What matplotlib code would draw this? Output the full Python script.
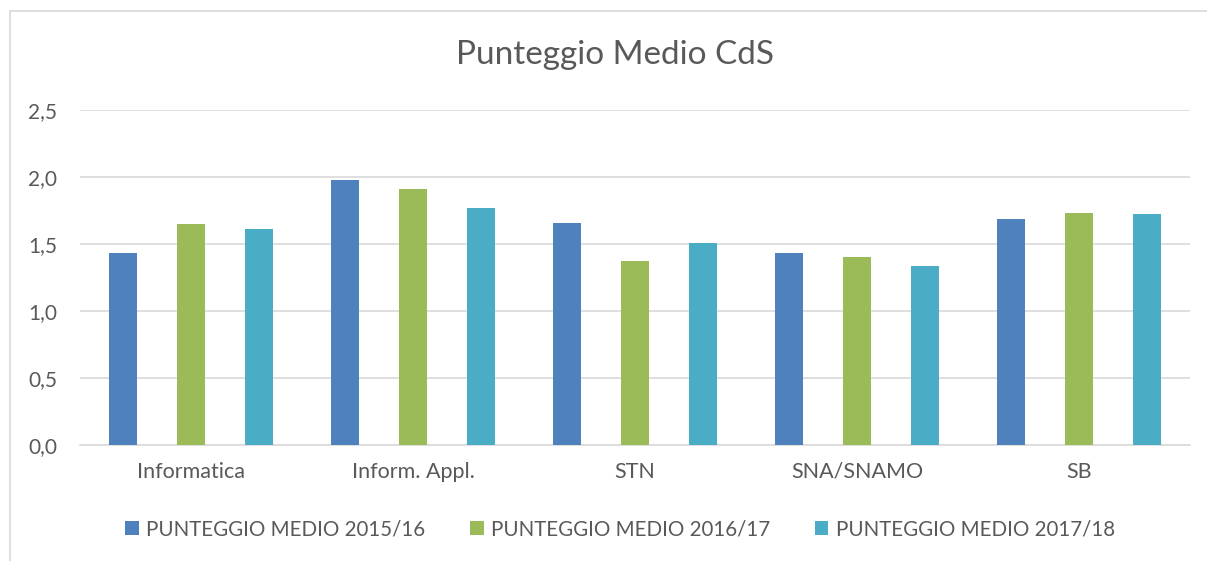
import numpy as np
import matplotlib
matplotlib.use("Agg")
import matplotlib.pyplot as plt
from matplotlib.patches import Rectangle

categories = ["Informatica", "Inform. Appl.", "STN", "SNA/SNAMO", "SB"]
series_names = ["PUNTEGGIO MEDIO 2015/16", "PUNTEGGIO MEDIO 2016/17",
                "PUNTEGGIO MEDIO 2017/18"]
vals_1516 = [1.43, 1.98, 1.66, 1.43, 1.69]
vals_1617 = [1.65, 1.91, 1.375, 1.405, 1.735]
vals_1718 = [1.61, 1.765, 1.51, 1.335, 1.725]
colors = ["#4F81BD", "#9BBB59", "#4BACC6"]
yticks = [0.0, 0.5, 1.0, 1.5, 2.0, 2.5]

plt.rcParams["font.family"] = ["Lato", "DejaVu Sans"]
txt = "#595959"

fig = plt.figure(figsize=(12.07, 5.61), dpi=100)
fig.patches.append(Rectangle((10 / 1207, -0.1), 1.2, (561 - 11) / 561 + 0.1,
                             transform=fig.transFigure, fill=False,
                             edgecolor="#d9d9d9", lw=1.2, zorder=0))
ax = fig.add_axes([80 / 1207, 1 - 445 / 561, 1110 / 1207, 335 / 561])

x = np.arange(len(categories))
offs = [-0.307, 0.0, 0.307]
for vals, off, c, name in zip([vals_1516, vals_1617, vals_1718], offs, colors,
                              series_names):
    ax.bar(x + off, vals, width=0.125, color=c, label=name, zorder=3)

ax.set_xlim(-0.5, len(categories) - 0.5)
ax.set_ylim(0, 2.5)
ax.set_yticks(yticks)
ax.set_yticklabels([f"{t:.1f}".replace(".", ",") for t in yticks],
                   fontsize=15, color=txt)
ax.set_xticks(x)
ax.set_xticklabels(categories, fontsize=15.5, color=txt)
ax.tick_params(length=0)
ax.tick_params(axis="x", pad=12)
ax.tick_params(axis="y", pad=16.5)
ax.grid(axis="y", color="#d9d9d9", lw=1.2, zorder=0)
for s in ["top", "right", "left"]:
    ax.spines[s].set_visible(False)
ax.spines["bottom"].set_color("#d9d9d9")
ax.spines["bottom"].set_linewidth(1.2)

fig.text(615 / 1207, 1 - 55 / 561, "Punteggio Medio CdS", ha="center",
         va="center", fontsize=24, color=txt)

fig.legend(loc="center", bbox_to_anchor=(620 / 1207, 1 - 529 / 561), ncol=3,
           frameon=False, fontsize=14.8, labelcolor=txt, handlelength=0.65,
           handleheight=0.65, handletextpad=0.35, columnspacing=2.2)

fig.savefig("out.png", dpi=100)
